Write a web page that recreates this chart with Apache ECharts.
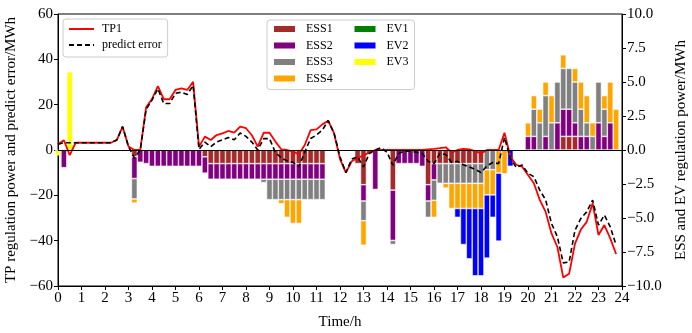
<!DOCTYPE html>
<html>
<head>
<meta charset="utf-8">
<script src="https://cdn.jsdelivr.net/npm/echarts@6/dist/echarts.min.js"></script>
<style>
html, body { margin: 0; padding: 0; background: #fff; }
#main { width: 692px; height: 333px; }
</style>
</head>
<body>
<div id="main"></div>
<script>
// values every 15 min, index i -> hour i/4
var tp1 = [
  2.5, 4.3, -2.3, 3.2, 3.2, 3.2, 3.2, 3.2,
  3.2, 3.2, 4.4, 10.3, 1.5, 0, 0, 18.8,
  22.5, 28.2, 22.4, 22.4, 26.5, 27.2, 26.5, 30.1,
  1.5, 5.9, 4.4, 6.6, 7.3, 8.4, 7.7, 10.3,
  9.6, 6.5, 1.5, 7.6, 7.6, 3.7, 0.3, 0,
  -0.7, -1.9, 2.2, 8.8, 9.1, 11.3, 12.9, 7.3,
  -4, -10, -5, -3.5, -2.5, -1, 0, 0,
  0, 0, 0, 0, 0, 0, 0, 0.3,
  0.5, 0.8, 1.2, -1.2, 0, 0.5, 0.3, -0.5,
  -1.5, 0, 0, 0, 7.6, -3, -6.5, -7.4,
  -11, -14.7, -22, -27.3, -36.8, -42.8, -56.3, -54.6,
  -41.3, -35.1, -31.7, -23.5, -37.5, -33.1, -39, -45.9
];
var predictError = [
  2.5, 3.2, 3.2, 3.2, 3.2, 3.2, 3.2, 3.2,
  3.2, 3.2, 4.4, 10.3, 1.5, -3.5, 0, 18,
  22, 27, 20.5, 20.5, 25, 25.5, 24.5, 28.5,
  0.3, 3.5, 1.5, 3.5, 4.5, 5.5, 4.5, 7.5,
  6, 3.5, 0, 5, 5, -1, -3.5, -4.8,
  -5.5, -7.4, -1, 5.1, 6.6, 8.8, 13, 7.3,
  -3, -10, -4, -3, -7.5, -1.5, 0, 1,
  -1, -6.7, -1.5, -0.5, -0.5, -1, -1.5, -5,
  -6, -1.5, -2, -5.5, -5, -6.5, -7.5, -8.5,
  -10, -7, -5.5, -6, 5.5, -3.7, -7.7, -6.6,
  -10.3, -11.8, -17.7, -22, -32.4, -38.3, -49.8, -49.4,
  -35.4, -30.2, -27.3, -22.1, -33.1, -28.7, -33.9, -42
];
var ess1 = [
  0, 0, 0, 0, 0, 0, 0, 0,
  0, 0, 0, 0, 0, -0.5, 0, 0,
  0, 0, 0, 0, 0, 0, 0, 0,
  0, -0.5, -1, -1, -1, -1, -1, -1,
  -1, -1, -1, -1, -1, -1, -1, -1,
  -1, -1, -1, -1, -1, -1, 0, 0,
  0, 0, 0, -1, -2.55, -0.3, 0, 0,
  0, -2.95, 0, 0, 0, 0, 0, -2.55,
  -1, -1, -1, -1, -1, -1, -1, -1,
  -1, 0, 0, 0, 0, 0, 0, 0,
  0, 0, 0, 0, 0, 0, 1, 1,
  1, 0, 0, 0, 0, 0, 0, 0
];
var ess2 = [
  0, -1.3, 0, 0, 0, 0, 0, 0,
  0, 0, 0, 0, 0, -1.6, -0.9, -1,
  -1.2, -1.2, -1.2, -1.2, -1.2, -1.2, -1.2, -1.2,
  -1.2, -1.2, -1.15, -1.15, -1.15, -1.15, -1.15, -1.15,
  -1.15, -1.15, -1.15, -1.15, -1.15, -1.15, -1.15, -1.15,
  -1.15, -1.15, -1.15, -1.15, -1.15, -1.15, 0, 0,
  0, 0, 0, 0, -1.2, 0, -2.9, 0,
  0, -3.7, -1, -1, -1, -1, -1.2, -1.2,
  -1.2, 0, 0, 0, 0, 0, 0, 0,
  0, 0, 0, 0, 0, 0, 0, 0,
  1, 1, 0, 1, 0, 2, 2, 2,
  1, 1, 1, 0, 2, 1, 2, 0
];
var ess3 = [
  0, 0, 0, 0, 0, 0, 0, 0,
  0, 0, 0, 0, 0, -1.5, 0, 0,
  0, 0, 0, 0, 0, 0, 0, 0,
  0, 0, 0, 0, 0, 0, 0, 0,
  0, 0, 0, -0.25, -1.5, -1.5, -1.5, -1.5,
  -1.5, -1.5, -1.5, -1.5, -1.5, -1.5, 0, 0,
  0, 0, 0, 0, -1.45, 0, 0, 0,
  0, -0.3, 0, 0, 0, 0, 0, -1.2,
  -1.5, -1.45, -1.45, -1.45, -1.45, -1.45, -1.45, -1.45,
  -1.45, -1.45, -1.45, 0, 0, 0, 0, 0,
  0, 2, 2, 3, 2, 3, 3, 3,
  3, 2, 1, 1, 3, 2, 0, 0
];
var ess4 = [
  0, 0, 0, 0, 0, 0, 0, 0,
  0, 0, 0, 0, 0, -0.3, 0, 0,
  0, 0, 0, 0, 0, 0, 0, 0,
  0, 0, 0, 0, 0, 0, 0, 0,
  0, 0, 0, 0, 0, 0, -0.3, -1.3,
  -1.75, -1.75, 0, 0, 0, 0, 0, 0,
  0, 0, 0, 0, -1.8, 0, 0, 0,
  0, 0, 0, 0, 0, 0, 0, 0,
  -1.25, 0, -0.35, -1.85, -1.85, -1.85, -1.85, -1.85,
  -1.85, -1.85, -1.85, -1.7, -1.75, 0, 0, 0,
  1, 1, 1, 1, 2, 0, 1, 0,
  1, 2, 2, 1, 0, 1, 3, 3
];
var ev1 = [];
var ev2 = [
  0, 0, 0, 0, 0, 0, 0, 0,
  0, 0, 0, 0, 0, 0, 0, 0,
  0, 0, 0, 0, 0, 0, 0, 0,
  0, 0, 0, 0, 0, 0, 0, 0,
  0, 0, 0, 0, 0, 0, 0, 0,
  0, 0, 0, 0, 0, 0, 0, 0,
  0, 0, 0, 0, 0, 0, 0, 0,
  0, 0, 0, 0, 0, 0, 0, 0,
  0, 0, 0, 0, -0.65, -2.65, -3.7, -4.95,
  -4.95, -4.65, -1.65, -5, 0, -1.2, 0, 0,
  0, 0, 0, 0, 0, 0, 0, 0,
  0, 0, 0, 0, 0, 0, 0, 0
];
var ev3 = [-0.4, 0, 5.75];

// 97 slots: 0, 0.25, ... 24
var hours = [];
for (var i = 0; i <= 96; i++) {
  hours.push(String(i / 4));
}

function barData(arr) {
  return hours.map(function (h, i) {
    var v = arr[i];
    return v ? v : '-';
  });
}

function minus(s) {
  return String(s).replace('-', '\u2212');
}

var font = 'Liberation Serif';

function barSeries(name, arr, color) {
  return {
    name: name,
    type: 'bar',
    stack: 'reg',
    yAxisIndex: 1,
    barWidth: 5.9,
    data: barData(arr),
    itemStyle: { color: color, borderColor: '#fff', borderWidth: 0.6 }
  };
}

var chartDom = document.getElementById('main');
var myChart = echarts.init(chartDom);
var option;

var essText = { width: 44 };

option = {
  animation: false,
  backgroundColor: '#fff',
  grid: {
    left: 58, right: 70, top: 14, bottom: 47,
    show: true, borderColor: '#000', borderWidth: 1,
    containLabel: false, outerBoundsMode: 'none'
  },
  legend: [
    {
      data: ['TP1', 'predict error'],
      orient: 'vertical',
      left: 63, top: 19,
      padding: [3, 6, 5, 5],
      itemWidth: 25, itemHeight: 14, itemGap: 2,
      itemStyle: { opacity: 0 },
      textStyle: { fontFamily: font, fontSize: 12, color: '#000', lineHeight: 14, padding: [0, 0, 0, 3] },
      borderColor: '#ccc', borderWidth: 1, borderRadius: 3,
      backgroundColor: 'rgba(255,255,255,0.8)'
    },
    {
      data: [
        { name: 'ESS1', textStyle: essText },
        { name: 'ESS2', textStyle: essText },
        { name: 'ESS3', textStyle: essText },
        { name: 'ESS4', textStyle: essText },
        'EV1', 'EV2', 'EV3'
      ],
      orient: 'vertical',
      left: 267, top: 20, height: 64,
      padding: [2, 6, 4, 5],
      icon: 'rect',
      itemWidth: 23, itemHeight: 8, itemGap: 2.5,
      textStyle: { fontFamily: font, fontSize: 12, color: '#000', lineHeight: 14, padding: [0, 0, 0, 5] },
      borderColor: '#ccc', borderWidth: 1, borderRadius: 3,
      backgroundColor: 'rgba(255,255,255,0.8)'
    }
  ],
  xAxis: {
    type: 'category',
    data: hours,
    boundaryGap: false,
    name: 'Time/h',
    nameLocation: 'middle',
    nameGap: 29,
    nameTextStyle: { fontFamily: font, fontSize: 15, color: '#000' },
    axisLine: { onZero: false, lineStyle: { color: '#000', width: 1 } },
    axisTick: { interval: 3, length: 4, lineStyle: { color: '#000' } },
    axisLabel: { interval: 3, fontFamily: font, fontSize: 15, color: '#000', margin: 5 },
    splitLine: { show: false }
  },
  yAxis: [
    {
      type: 'value',
      position: 'left',
      min: -60, max: 60, interval: 20,
      name: 'TP regulation power and predict error/MWh',
      nameLocation: 'middle',
      nameGap: 38,
      nameTextStyle: { fontFamily: font, fontSize: 15, color: '#000' },
      axisLine: { show: true, lineStyle: { color: '#000', width: 1 } },
      axisTick: { show: true, length: 4, lineStyle: { color: '#000' } },
      axisLabel: { fontFamily: font, fontSize: 15, color: '#000', margin: 5, formatter: function (v) { return minus(v); } },
      splitLine: { show: false }
    },
    {
      type: 'value',
      position: 'right',
      min: -10, max: 10, interval: 2.5,
      name: 'ESS and EV regulation power/MWh',
      nameLocation: 'middle',
      nameGap: 52,
      nameTextStyle: { fontFamily: font, fontSize: 15, color: '#000' },
      axisLine: { show: true, lineStyle: { color: '#000', width: 1 } },
      axisTick: { show: true, length: 4, lineStyle: { color: '#000' } },
      axisLabel: { fontFamily: font, fontSize: 15, color: '#000', margin: 5, formatter: function (v) { return minus(v.toFixed(1)); } },
      splitLine: { show: false }
    }
  ],
  series: [
    barSeries('ESS1', ess1, '#a52a2a'),
    barSeries('ESS2', ess2, '#800080'),
    barSeries('ESS3', ess3, '#808080'),
    barSeries('ESS4', ess4, '#ffa500'),
    barSeries('EV1', ev1, '#008000'),
    barSeries('EV2', ev2, '#0000ff'),
    barSeries('EV3', ev3, '#ffff00'),
    {
      name: 'TP1',
      type: 'line',
      yAxisIndex: 0,
      data: tp1,
      symbol: 'none',
      z: 3,
      lineStyle: { color: '#ff0000', width: 1.8 },
      itemStyle: { color: '#ff0000' },
      markLine: {
        silent: true,
        symbol: 'none',
        label: { show: false },
        lineStyle: { color: '#000', width: 1, type: 'solid' },
        data: [{ yAxis: 0 }]
      }
    },
    {
      name: 'predict error',
      type: 'line',
      yAxisIndex: 0,
      data: predictError,
      symbol: 'none',
      z: 4,
      lineStyle: { color: '#000', width: 1.6, type: [5, 3] },
      itemStyle: { color: '#000' }
    }
  ]
};

option && myChart.setOption(option);
</script>
</body>
</html>
